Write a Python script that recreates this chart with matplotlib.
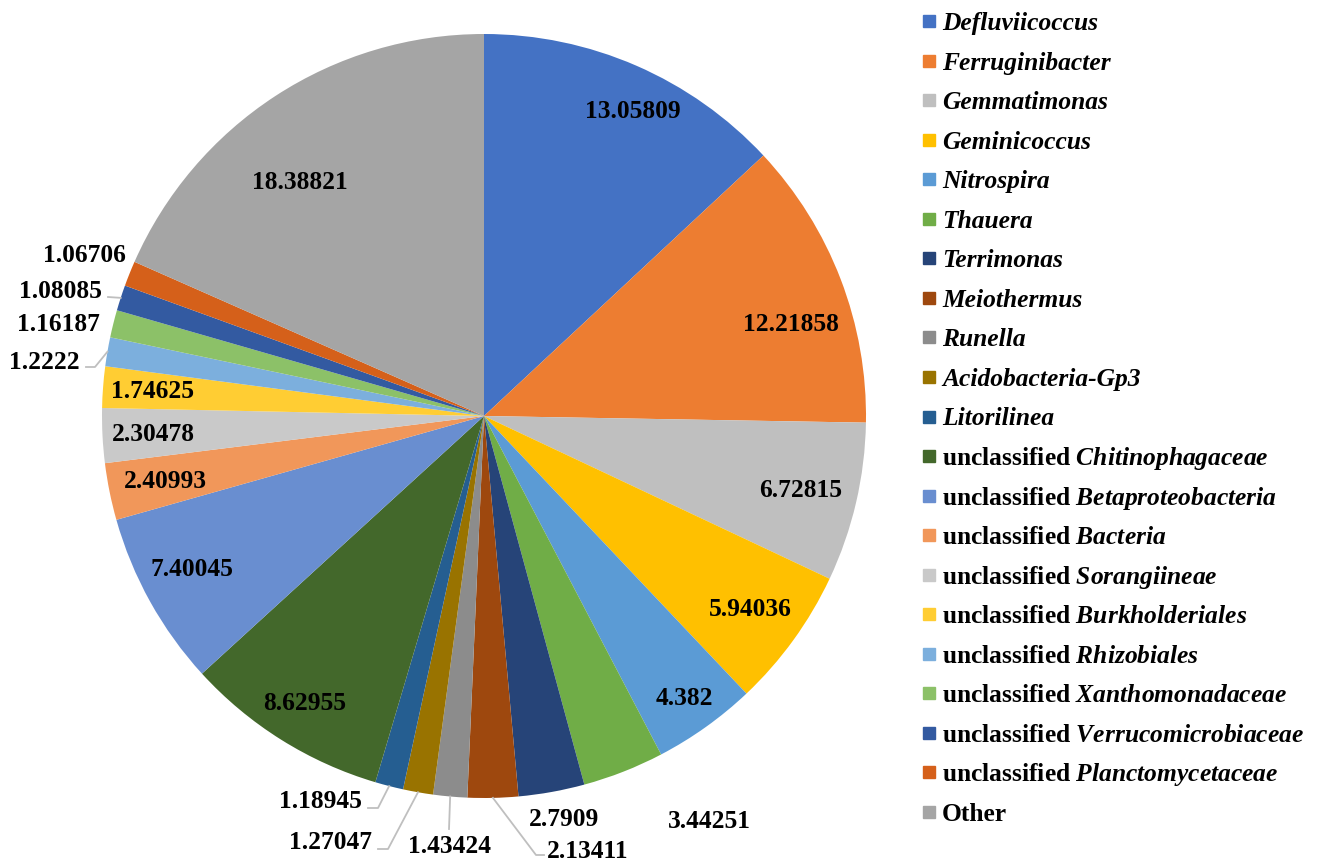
import matplotlib.pyplot as plt
import numpy as np
from matplotlib.patches import Rectangle

plt.rcParams['font.family'] = 'Liberation Serif'
plt.rcParams['font.weight'] = 'bold'
plt.rcParams['mathtext.fontset'] = 'custom'
plt.rcParams['mathtext.it'] = 'Liberation Serif:italic:bold'
plt.rcParams['mathtext.rm'] = 'Liberation Serif:bold'

# genus level relative abundance (%)
genera = ['Defluviicoccus', 'Ferruginibacter', 'Gemmatimonas', 'Geminicoccus',
          'Nitrospira', 'Thauera', 'Terrimonas', 'Meiothermus', 'Runella',
          'Acidobacteria-Gp3', 'Litorilinea',
          'unclassified Chitinophagaceae', 'unclassified Betaproteobacteria',
          'unclassified Bacteria', 'unclassified Sorangiineae',
          'unclassified Burkholderiales', 'unclassified Rhizobiales',
          'unclassified Xanthomonadaceae', 'unclassified Verrucomicrobiaceae',
          'unclassified Planctomycetaceae', 'Other']
abundance = [13.05809, 12.21858, 6.72815, 5.94036, 4.382, 3.44251, 2.7909,
             2.13411, 1.43424, 1.27047, 1.18945, 8.62955, 7.40045, 2.40993,
             2.30478, 1.74625, 1.2222, 1.16187, 1.08085, 1.06706, 18.38821]
colors = ['#4472C4', '#ED7D31', '#BFBFBF', '#FFC000', '#5B9BD5', '#70AD47',
          '#264478', '#9E480E', '#8C8C8C', '#997300', '#255E91', '#43682B',
          '#698ED0', '#F1975A', '#C9C9C9', '#FFCD33', '#7CAFDD', '#8CC168',
          '#335AA1', '#D5601A', '#A5A5A5']

# page layout in pixels: pie centre and radius
W, H = 1320, 862
CX, CY, RPX = 484, 417, 382
FS = 18.4


def px(x, y):
    return (x - CX) / RPX, (CY - y) / RPX


# inside labels: (radius factor, angle nudge in degrees, clockwise)
inside = {0: (0.89, 2.5), 1: (0.84, 4.3), 2: (0.85, 0), 3: (0.86, 0),
          4: (0.905, 0), 11: (0.885, 0), 12: (0.864, 1.5), 13: (0.85, 0),
          14: (0.867, 0), 15: (0.87, 0), 20: (0.78, -5)}
# outside labels: text position (px), ha, leader points (px) from the slice edge
outside = {5: ((709, 822), 'center', None),
           6: ((564, 820), 'center', None),
           7: ((547, 852), 'left', [(536, 856), (544, 856)]),
           8: ((449, 847), 'center', [(449, 830)]),
           9: ((372, 843), 'right', [(388, 850), (378, 850)]),
           10: ((362, 802), 'right', [(378, 809), (368, 809)]),
           16: ((80, 363), 'right', [(95, 368), (86, 368)]),
           17: ((100, 325), 'right', None),
           18: ((102, 292), 'right', [(108, 298)]),
           19: ((126, 256), 'right', None)}

fig = plt.figure(figsize=(W / 100, H / 100), dpi=100)
ax = fig.add_axes([0, 0, 1, 1])
ax.pie(abundance, colors=colors, startangle=90, counterclock=False,
       radius=1, center=(0, 0), wedgeprops=dict(linewidth=0))
ax.set_xlim(-CX / RPX, (W - CX) / RPX)
ax.set_ylim(-(H - CY) / RPX, CY / RPX)
ax.set_aspect('equal')
ax.axis('off')

total = sum(abundance)
cum = np.cumsum(abundance) - np.array(abundance) / 2
mid_deg = 360 * cum / total  # clockwise from 12 o'clock

for i, v in enumerate(abundance):
    if i in inside:
        r, nudge = inside[i]
        t = np.deg2rad(90 - mid_deg[i] - nudge)
        ax.text(r * np.cos(t), r * np.sin(t), str(v), ha='center', va='center',
                fontsize=FS)
    else:
        (tx, ty), ha, leader = outside[i]
        x, y = px(tx, ty)
        ax.text(x, y, str(v), ha=ha, va='center', fontsize=FS)
        if leader:
            t = np.deg2rad(90 - mid_deg[i])
            xs = [np.cos(t)] + [px(a, b)[0] for a, b in leader]
            ys = [np.sin(t)] + [px(a, b)[1] for a, b in leader]
            ax.plot(xs, ys, color='#BFBFBF', lw=1.3, clip_on=False)

# legend
row0, pitch = 22, 39.55
box = 12 / RPX
for i, (name, c) in enumerate(zip(genera, colors)):
    yc = row0 + i * pitch
    bx, by = px(923, yc + 6)
    ax.add_patch(Rectangle((bx, by), box, box, color=c, clip_on=False))
    lx, ly = px(942, yc + 8)
    if name.startswith('unclassified '):
        label = 'unclassified $\\mathit{%s}$' % name.split(' ', 1)[1]
        ax.text(lx, ly, label, fontsize=FS, va='baseline', ha='left')
    elif name == 'Other':
        ax.text(lx, ly, name, fontsize=FS, va='baseline', ha='left')
    else:
        ax.text(lx, ly, name, fontsize=FS, va='baseline', ha='left',
                style='italic')

fig.savefig('out.png', dpi=100)
